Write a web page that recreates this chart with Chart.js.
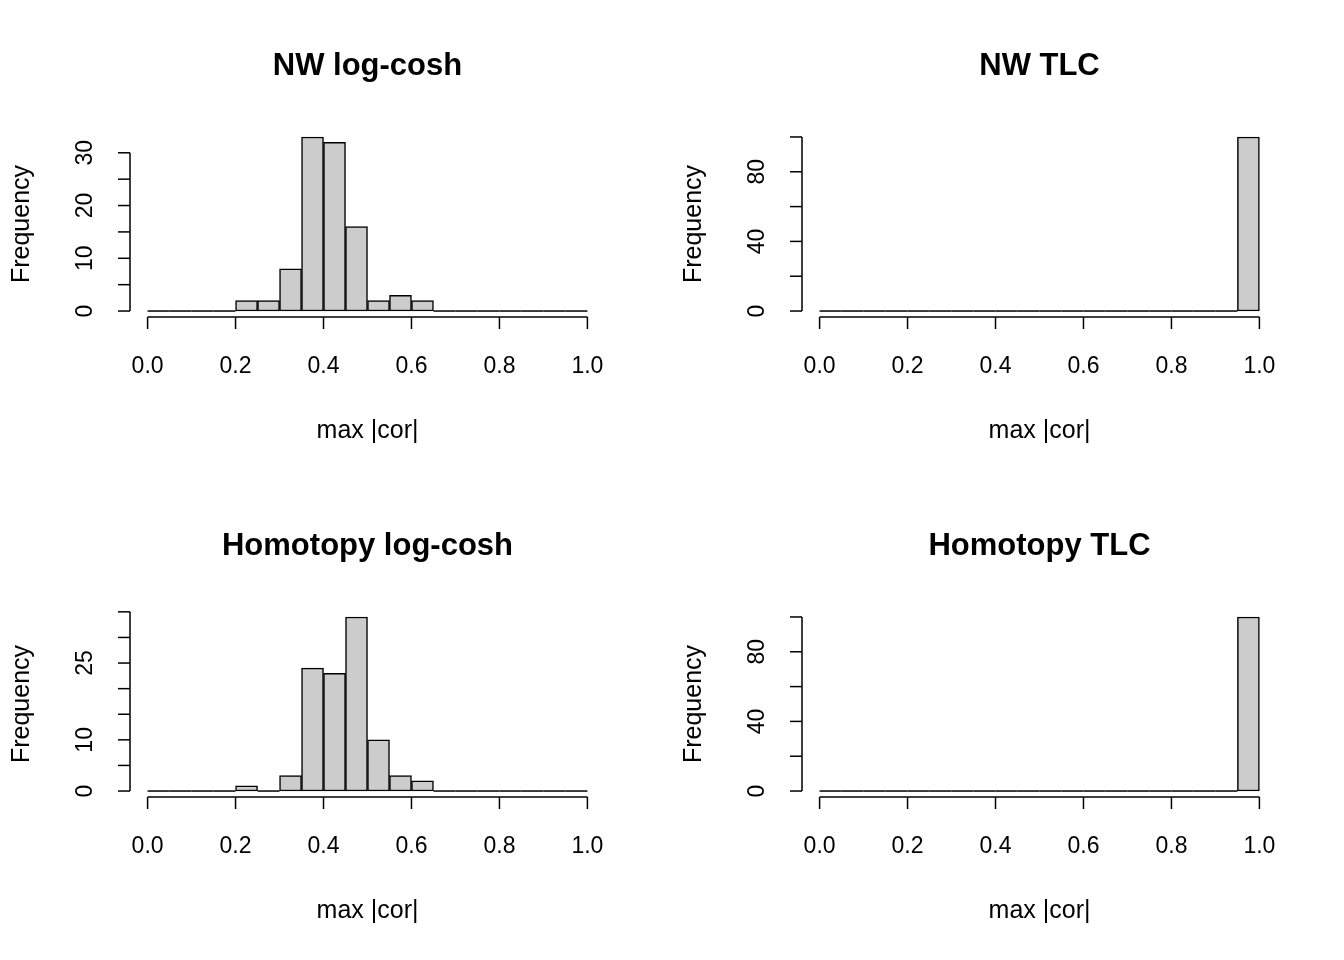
<!DOCTYPE html>
<html>
<head>
<meta charset="utf-8">
<script src="https://cdn.jsdelivr.net/npm/chart.js@4"></script>
<style>
body { margin: 0; background: #fff; }
#wrap { position: relative; width: 1344px; height: 960px; }
canvas { position: absolute; }
</style>
</head>
<body>
<div id="wrap">
<canvas id="c0" width="672" height="480" style="left:0;top:0"></canvas>
<canvas id="c1" width="672" height="480" style="left:672px;top:0"></canvas>
<canvas id="c2" width="672" height="480" style="left:0;top:480px"></canvas>
<canvas id="c3" width="672" height="480" style="left:672px;top:480px"></canvas>
</div>
<script>
// bin centers, width 0.05 from 0 to 1
const binCenters = [];
for (let i = 0; i < 20; i++) binCenters.push(0.025 + i * 0.05);

const titles = ["NW log-cosh", "NW TLC", "Homotopy log-cosh", "Homotopy TLC"];
const nwLogcosh = [0,0,0,0,2,2,8,33,32,16,2,3,2,0,0,0,0,0,0,0];
const nwTlc = [0,0,0,0,0,0,0,0,0,0,0,0,0,0,0,0,0,0,0,100];
const homLogcosh = [0,0,0,0,1,0,3,24,23,34,10,3,2,0,0,0,0,0,0,0];
const homTlc = [0,0,0,0,0,0,0,0,0,0,0,0,0,0,0,0,0,0,0,100];
const seriesList = [nwLogcosh, nwTlc, homLogcosh, homTlc];

const xTicks = [0, 0.2, 0.4, 0.6, 0.8, 1.0];
const yTicksList = [[0,5,10,15,20,25,30], [0,20,40,60,80,100], [0,5,10,15,20,25,30,35], [0,20,40,60,80,100]];
const yLabelsList = [[0,10,20,30], [0,40,80], [0,10,25], [0,40,80]];

const FONT = "Liberation Sans, Arial, sans-serif";

function makeAxesPlugin(idx) {
	return {
		id: "rAxes" + idx,
		afterDatasetsDraw(chart) {
			const c = chart.ctx;
			const xs = chart.scales.x, ys = chart.scales.y;
			const area = chart.chartArea;
			const data = seriesList[idx];
			c.save();
			c.strokeStyle = "#000";
			c.fillStyle = "#000";
			c.lineWidth = 1.5;
			// zero-height bins drawn as a flat line
			const y0 = ys.getPixelForValue(0);
			data.forEach((v, i) => {
				if (v === 0) {
					c.beginPath();
					c.moveTo(xs.getPixelForValue(binCenters[i] - 0.025), y0);
					c.lineTo(xs.getPixelForValue(binCenters[i] + 0.025), y0);
					c.stroke();
				}
			});
			// x axis
			const ax = area.bottom - 1;
			c.beginPath();
			c.moveTo(xs.getPixelForValue(0), ax);
			c.lineTo(xs.getPixelForValue(1), ax);
			c.stroke();
			c.font = "23px " + FONT;
			c.textAlign = "center";
			c.textBaseline = "middle";
			xTicks.forEach((t) => {
				const px = xs.getPixelForValue(t);
				c.beginPath();
				c.moveTo(px, ax);
				c.lineTo(px, ax + 12);
				c.stroke();
				c.fillText(t.toFixed(1), px, 367);
			});
			c.font = "25px " + FONT;
			c.fillText("max |cor|", (area.left + area.right) / 2, 431);
			// y axis
			const yt = yTicksList[idx];
			const axl = area.left;
			c.beginPath();
			c.moveTo(axl, ys.getPixelForValue(yt[0]));
			c.lineTo(axl, ys.getPixelForValue(yt[yt.length - 1]));
			c.stroke();
			yt.forEach((t) => {
				const py = ys.getPixelForValue(t);
				c.beginPath();
				c.moveTo(axl, py);
				c.lineTo(axl - 12, py);
				c.stroke();
			});
			c.font = "23px " + FONT;
			yLabelsList[idx].forEach((t) => {
				const py = ys.getPixelForValue(t);
				c.save();
				c.translate(86, py);
				c.rotate(-Math.PI / 2);
				c.fillText(String(t), 0, 0);
				c.restore();
			});
			c.font = "25px " + FONT;
			c.save();
			c.translate(22, 224);
			c.rotate(-Math.PI / 2);
			c.fillText("Frequency", 0, 0);
			c.restore();
			// title
			c.font = "bold 31px " + FONT;
			c.fillText(titles[idx], (area.left + area.right) / 2, 66);
			c.restore();
		}
	};
}

seriesList.forEach((vals, idx) => {
	const ymax = Math.max(...vals);
	new Chart(document.getElementById("c" + idx), {
		type: "bar",
		data: {
			datasets: [{
				data: binCenters.map((x, i) => ({ x: x, y: vals[i] })),
				backgroundColor: "#cccccc",
				borderColor: "#000",
				borderWidth: 1.5,
				borderSkipped: false,
				barPercentage: 1,
				categoryPercentage: 1
			}]
		},
		options: {
			responsive: false,
			animation: false,
			devicePixelRatio: 1,
			layout: { padding: { left: 130, right: 67, top: 130, bottom: 162 } },
			plugins: { legend: { display: false }, tooltip: { enabled: false } },
			scales: {
				x: { type: "linear", min: -0.04, max: 1.04, display: false, offset: false },
				y: { min: -0.04 * ymax, max: 1.04 * ymax, display: false }
			}
		},
		plugins: [makeAxesPlugin(idx)]
	});
});
</script>
</body>
</html>
